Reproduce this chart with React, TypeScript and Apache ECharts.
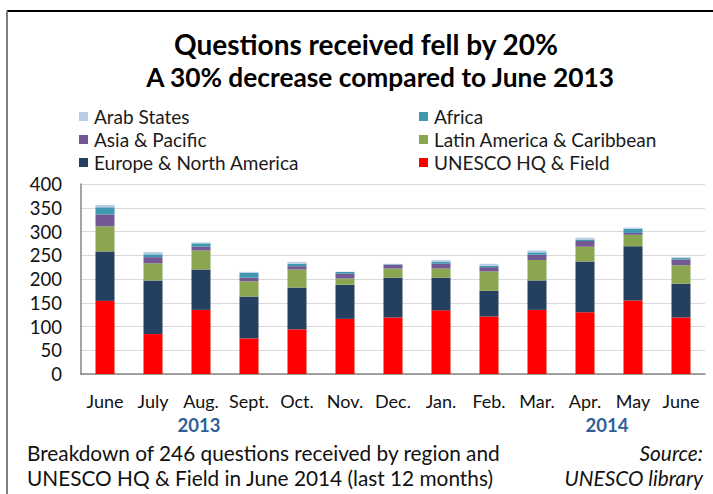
import React, { useEffect, useRef } from "react";
import * as echarts from "echarts";

const months = ["June", "July", "Aug.", "Sept.", "Oct.", "Nov.", "Dec.", "Jan.", "Feb.", "Mar.", "Apr.", "May", "June"];
const unescoHQ = [154, 84, 135, 75, 94, 116, 119, 134, 121, 135, 130, 155, 119];
const europeNA = [104, 113, 85, 88, 88, 72, 84, 69, 54, 62, 107, 114, 71];
const latinAm = [53, 36, 40, 32, 38, 13, 19, 19, 41, 43, 31, 24, 39];
const asiaPac = [25, 13, 8, 8, 7, 10, 8, 10, 9, 11, 12, 4, 12];
const africa = [15, 6, 7, 10, 5, 4, 1, 4, 3, 5, 3, 9, 3];
const arabStates = [5, 5, 2, 2, 4, 0, 1, 4, 4, 4, 4, 2, 2];
const yearLabels = ["2013", "2014"];

const FONT = "Lato, 'Open Sans', sans-serif";

export default function App() {
  const ref = useRef<HTMLDivElement>(null);
  useEffect(() => {
    if (!ref.current) return;
    const chart = echarts.init(ref.current, null, { renderer: "svg" });
    const mk = (name: string, data: number[], color: string) => ({
      name,
      type: "bar",
      stack: "total",
      data,
      barWidth: 19,
      itemStyle: { color },
    });
    const legendText = { fontSize: 19, color: "#1a1a1a", lineHeight: 23, fontFamily: FONT, padding: [0, 0, 0, 1] };
    chart.setOption({
      animation: false,
      backgroundColor: "#ffffff",
      textStyle: { fontFamily: FONT },
      grid: { left: 81, right: 8, top: 184, bottom: 120, containLabel: false },
      legend: [
        {
          data: ["Arab States", "Asia & Pacific", "Europe & North America"],
          orient: "vertical",
          left: 79,
          top: 105,
          padding: 0,
          itemGap: 0,
          itemWidth: 9,
          itemHeight: 9,
          icon: "rect",
          selectedMode: false,
          textStyle: legendText,
        },
        {
          data: ["Africa", "Latin America & Caribbean", "UNESCO HQ & Field"],
          orient: "vertical",
          left: 419,
          top: 105,
          padding: 0,
          itemGap: 0,
          itemWidth: 9,
          itemHeight: 9,
          icon: "rect",
          selectedMode: false,
          textStyle: legendText,
        },
      ],
      xAxis: {
        type: "category",
        data: months,
        axisLine: { lineStyle: { color: "#868686", width: 1.5 } },
        axisTick: { show: false },
        axisLabel: { fontSize: 18, color: "#111", margin: 18, fontFamily: FONT, interval: 0 },
      },
      yAxis: {
        type: "value",
        min: 0,
        max: 400,
        interval: 50,
        axisLine: { show: true, lineStyle: { color: "#868686", width: 1.5 } },
        axisTick: { show: false },
        axisLabel: { fontSize: 18.5, color: "#111", margin: 19, fontFamily: FONT },
        splitLine: { lineStyle: { color: "#d9d9d9", width: 1.2 } },
      },
      series: [
        mk("UNESCO HQ & Field", unescoHQ, "#ff0000"),
        mk("Europe & North America", europeNA, "#243f60"),
        mk("Latin America & Caribbean", latinAm, "#8aa64e"),
        mk("Asia & Pacific", asiaPac, "#735994"),
        mk("Africa", africa, "#3f97b0"),
        mk("Arab States", arabStates, "#b9cde5"),
      ],
      graphic: [
        { type: "line", shape: { x1: 7, y1: 11, x2: 713, y2: 11 }, style: { stroke: "#000", lineWidth: 2 } },
        { type: "line", shape: { x1: 7, y1: 11, x2: 7, y2: 494 }, style: { stroke: "#7f7f7f", lineWidth: 2 } },
        {
          type: "text",
          x: 366,
          y: 44,
          style: { text: "Questions received fell by 20%", fontSize: 28, fontWeight: "bold", fontFamily: FONT, fill: "#000", textAlign: "center", textVerticalAlign: "middle" },
        },
        {
          type: "text",
          x: 380,
          y: 77,
          style: { text: "A 30% decrease compared to June 2013", fontSize: 26.3, fontWeight: "bold", fontFamily: FONT, fill: "#000", textAlign: "center", textVerticalAlign: "middle" },
        },
        {
          type: "text",
          x: 199,
          y: 424.5,
          style: { text: yearLabels[0], fontSize: 18.5, fontWeight: "bold", fontFamily: FONT, fill: "#2f5f98", textAlign: "center", textVerticalAlign: "middle" },
        },
        {
          type: "text",
          x: 607,
          y: 424.5,
          style: { text: yearLabels[1], fontSize: 18.5, fontWeight: "bold", fontFamily: FONT, fill: "#2f5f98", textAlign: "center", textVerticalAlign: "middle" },
        },
        {
          type: "text",
          x: 27,
          y: 452,
          style: { text: "Breakdown of 246 questions received by region and", fontSize: 20.8, fontFamily: FONT, fill: "#111", textAlign: "left", textVerticalAlign: "middle" },
        },
        {
          type: "text",
          x: 27,
          y: 477,
          style: { text: "UNESCO HQ & Field in June 2014 (last 12 months)", fontSize: 20.8, fontFamily: FONT, fill: "#111", textAlign: "left", textVerticalAlign: "middle" },
        },
        {
          type: "text",
          x: 703,
          y: 452,
          style: { text: "Source:", fontSize: 20.8, fontStyle: "italic", fontFamily: FONT, fill: "#111", textAlign: "right", textVerticalAlign: "middle" },
        },
        {
          type: "text",
          x: 703,
          y: 477,
          style: { text: "UNESCO library", fontSize: 20.8, fontStyle: "italic", fontFamily: FONT, fill: "#111", textAlign: "right", textVerticalAlign: "middle" },
        },
      ],
    });
    return () => chart.dispose();
  }, []);
  return <div ref={ref} style={{ position: "fixed", left: 0, top: 0, width: 713, height: 494 }} />;
}
